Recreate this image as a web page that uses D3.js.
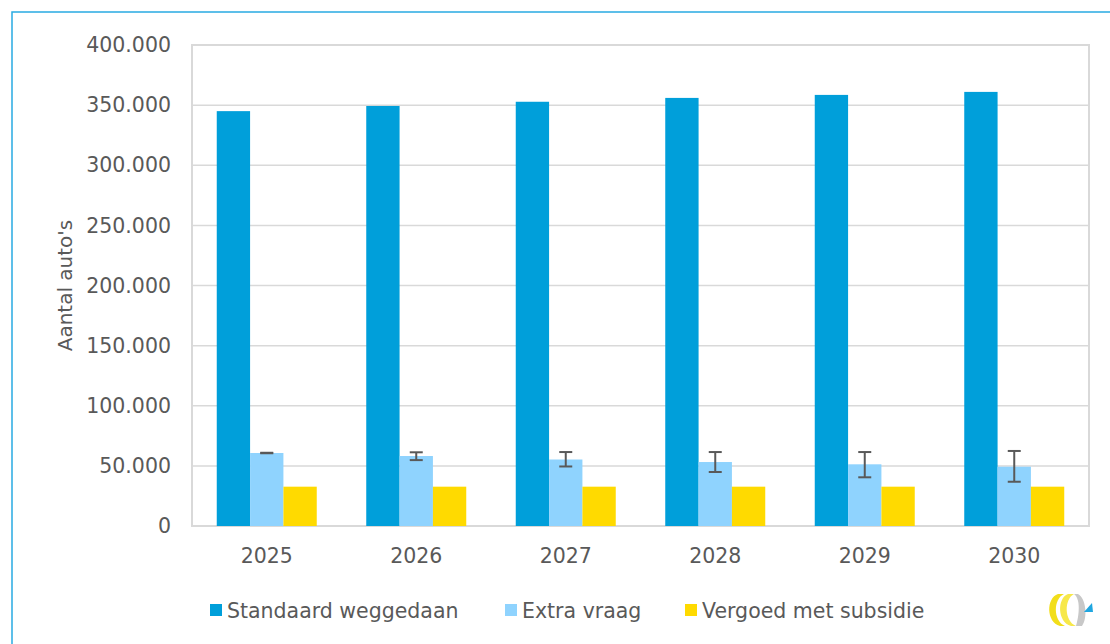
<!DOCTYPE html>
<html lang="nl">
<head>
<meta charset="utf-8">
<script src="https://d3js.org/d3.v7.min.js"></script>
<style>
  html, body { margin: 0; padding: 0; background: #fff; }
  body { font-family: "DejaVu Sans", sans-serif; }
  .grid line { stroke: #d9d9d9; stroke-width: 1.5; }
  .axis text { fill: #595959; font-size: 20.5px; }
</style>
</head>
<body>
<script>
// chart data
var years = ["2025", "2026", "2027", "2028", "2029", "2030"];
var seriesNames = ["Standaard weggedaan", "Extra vraag", "Vergoed met subsidie"];
var standaard = [345000, 349300, 352800, 356000, 358500, 361000];
var extra = [60700, 58200, 55300, 53200, 51300, 49300];
var extraLow = [60500, 54800, 49500, 44900, 40500, 36800];
var extraHigh = [60900, 61300, 61500, 61500, 61500, 62400];
var vergoed = [32700, 32700, 32700, 32700, 32700, 32700];
var yTicks = [0, 50000, 100000, 150000, 200000, 250000, 300000, 350000, 400000];

var colors = ["#009fda", "#8fd3fe", "#ffda00"];

var W = 1110, H = 644;
var plot = {left: 192, top: 45, right: 1089, bottom: 526};

var svg = d3.select("body").append("svg")
    .attr("width", W).attr("height", H);

// outer blue frame
svg.append("rect")
    .attr("x", 12).attr("y", 12)
    .attr("width", W + 20).attr("height", H + 20)
    .attr("fill", "none")
    .attr("stroke", "#29abe2")
    .attr("stroke-width", 1.5);

var x0 = d3.scaleBand().domain(years).range([plot.left, plot.right]).paddingInner(0).paddingOuter(0);
var x1 = d3.scaleBand().domain([0, 1, 2]).range([0, 100]);
var groupOffset = (x0.bandwidth() - 100) / 2;
var y = d3.scaleLinear().domain([0, 400000]).range([plot.bottom, plot.top]);

// gridlines
svg.append("g").attr("class", "grid")
  .selectAll("line").data(yTicks).enter().append("line")
    .attr("x1", plot.left).attr("x2", plot.right)
    .attr("y1", function(d) { return y(d); })
    .attr("y2", function(d) { return y(d); });

// plot border
svg.append("rect")
    .attr("x", plot.left).attr("y", plot.top)
    .attr("width", plot.right - plot.left).attr("height", plot.bottom - plot.top)
    .attr("fill", "none").attr("stroke", "#d9d9d9").attr("stroke-width", 2);

// bars
var series = [standaard, extra, vergoed];
series.forEach(function(vals, s) {
  svg.append("g").selectAll("rect").data(vals).enter().append("rect")
      .attr("x", function(d, i) { return x0(years[i]) + groupOffset + x1(s); })
      .attr("width", x1.bandwidth())
      .attr("y", function(d) { return y(d); })
      .attr("height", function(d) { return y(0) - y(d); })
      .attr("fill", colors[s]);
});

// error bars on "Extra vraag"
var eb = svg.append("g").attr("stroke", "#595959").attr("stroke-width", 2);
years.forEach(function(yr, i) {
  var cx = x0(yr) + groupOffset + x1(1) + x1.bandwidth() / 2;
  eb.append("line").attr("x1", cx).attr("x2", cx)
    .attr("y1", y(extraHigh[i])).attr("y2", y(extraLow[i]));
  [extraHigh[i], extraLow[i]].forEach(function(v) {
    eb.append("line").attr("x1", cx - 6.5).attr("x2", cx + 6.5)
      .attr("y1", y(v)).attr("y2", y(v));
  });
});

// y axis labels
var fmt = function(d) { return d === 0 ? "0" : d3.format(",")(d).replace(/,/g, "."); };
svg.append("g").attr("class", "axis")
  .selectAll("text").data(yTicks).enter().append("text")
    .attr("x", 171)
    .attr("y", function(d) { return y(d); })
    .attr("dy", "0.35em")
    .attr("text-anchor", "end")
    .text(fmt);

// x axis labels
svg.append("g").attr("class", "axis")
  .selectAll("text").data(years).enter().append("text")
    .attr("x", function(d) { return x0(d) + x0.bandwidth() / 2; })
    .attr("y", 563)
    .attr("text-anchor", "middle")
    .text(function(d) { return d; });

// y title
svg.append("text")
    .attr("transform", "translate(72," + ((plot.top + plot.bottom) / 2) + ") rotate(-90)")
    .attr("text-anchor", "middle")
    .attr("fill", "#595959")
    .style("font-size", "20px")
    .text("Aantal auto's");

// legend
var legendX = [210, 505, 685];
var legend = svg.append("g");
seriesNames.forEach(function(name, i) {
  legend.append("rect")
    .attr("x", legendX[i]).attr("y", 604)
    .attr("width", 12).attr("height", 12)
    .attr("fill", colors[i]);
  legend.append("text")
    .attr("x", legendX[i] + 17).attr("y", 618)
    .attr("fill", "#595959")
    .style("font-size", "20.5px")
    .text(name);
});

// small logo, bottom right
var logo = svg.append("g").attr("transform", "translate(1046,592)");
logo.append("path").attr("d", "M12,2 C0,6 0,30 14,34 L19,34 C7,29 7,7 18,2 Z").attr("fill", "#f2de1a");
logo.append("path").attr("d", "M22,2 C11,6 11,30 25,34 L30,34 C18,29 18,7 28,2 Z").attr("fill", "#f7e84a");
logo.append("path").attr("d", "M28,2 C36,8 32,28 30,34 L36,34 C42,26 40,6 32,2 Z").attr("fill", "#c8c8c8");
logo.append("path").attr("d", "M38,20 L46,11 L47,20 Z").attr("fill", "#1fa6e0");
</script>
</body>
</html>
